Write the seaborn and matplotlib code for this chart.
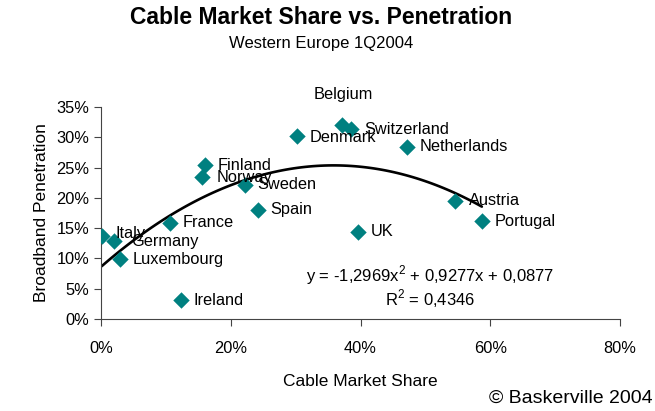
import matplotlib
matplotlib.use("Agg")
import matplotlib.pyplot as plt
import numpy as np
import pandas as pd
import seaborn as sns
from matplotlib.ticker import PercentFormatter

COUNTRIES = ["Italy", "Germany", "Luxembourg", "France", "Ireland", "Finland",
             "Norway", "Sweden", "Spain", "Denmark", "Belgium", "Switzerland",
             "UK", "Netherlands", "Austria", "Portugal"]
CABLE_SHARE = [0.001, 0.020, 0.030, 0.106, 0.124, 0.160, 0.155, 0.222, 0.242,
               0.302, 0.372, 0.386, 0.396, 0.472, 0.545, 0.587]
PENETRATION = [0.137, 0.128, 0.099, 0.159, 0.031, 0.254, 0.234, 0.222, 0.180,
               0.302, 0.320, 0.313, 0.144, 0.284, 0.194, 0.161]

# label offsets in points (dx, dy) relative to the marker
OFFSETS = {"Italy": (10, 2), "Germany": (12, 0), "Belgium": (-21, 22),
           "Norway": (11, 0), "Denmark": (9, -1), "Austria": (10, 1)}

EQUATION = "y = -1,2969x$^2$ + 0,9277x + 0,0877"
R2_TEXT = "R$^2$ = 0,4346"

df = pd.DataFrame({"country": COUNTRIES, "share": CABLE_SHARE, "pen": PENETRATION})

sns.set_style("ticks")
plt.rcParams["font.family"] = ["Liberation Sans", "DejaVu Sans"]
plt.rcParams["mathtext.fontset"] = "custom"
plt.rcParams["mathtext.rm"] = "Liberation Sans"
plt.rcParams["text.color"] = "black"
plt.rcParams["axes.labelcolor"] = "black"
plt.rcParams["xtick.color"] = "black"
plt.rcParams["ytick.color"] = "black"

fig = plt.figure(figsize=(6.55, 4.11), dpi=100)
ax = fig.add_axes([0.1542, 0.2238, 0.7924, 0.5159])

sns.regplot(data=df, x="share", y="pen", order=2, ci=None, scatter=False,
            truncate=True, line_kws={"color": "black", "lw": 1.9}, ax=ax)
sns.scatterplot(data=df, x="share", y="pen", marker="D", s=70, color="#008080",
                edgecolor="#008080", linewidth=0, ax=ax, zorder=3)

for name, x, y in zip(COUNTRIES, CABLE_SHARE, PENETRATION):
    dx, dy = OFFSETS.get(name, (9, 0))
    ax.annotate(name, (x, y), xytext=(dx, dy), textcoords="offset points",
                ha="left", va="center", fontsize=11.8, color="black")

ax.text(0.507, 0.073, EQUATION, ha="center", va="center", fontsize=12)
ax.text(0.507, 0.033, R2_TEXT, ha="center", va="center", fontsize=12)

ax.set_xlim(0, 0.8)
ax.set_ylim(0, 0.35)
ax.set_xticks([0, 0.2, 0.4, 0.6, 0.8])
ax.set_yticks(np.arange(0, 0.351, 0.05))
ax.xaxis.set_major_formatter(PercentFormatter(1.0, decimals=0))
ax.yaxis.set_major_formatter(PercentFormatter(1.0, decimals=0))
ax.tick_params(axis="both", labelsize=11.8, length=5, width=0.8, color="#444444")
ax.tick_params(axis="x", pad=11)
for side in ["top", "right"]:
    ax.spines[side].set_visible(False)
for side in ["left", "bottom"]:
    ax.spines[side].set_color("#444444")
    ax.spines[side].set_linewidth(0.8)
ax.set_xlabel("Cable Market Share", fontsize=12.5, labelpad=13)
ax.set_ylabel("Broadband Penetration", fontsize=12.5, labelpad=5)

fig.text(0.49, 0.957, "Cable Market Share vs. Penetration", ha="center", va="center",
         fontsize=16.5, fontweight="bold")
fig.text(0.49, 0.893, "Western Europe 1Q2004", ha="center", va="center", fontsize=12)
fig.text(0.997, 0.032, "\u00a9 Baskerville 2004", ha="right", va="center", fontsize=14)

fig.savefig("out.png", dpi=100)
